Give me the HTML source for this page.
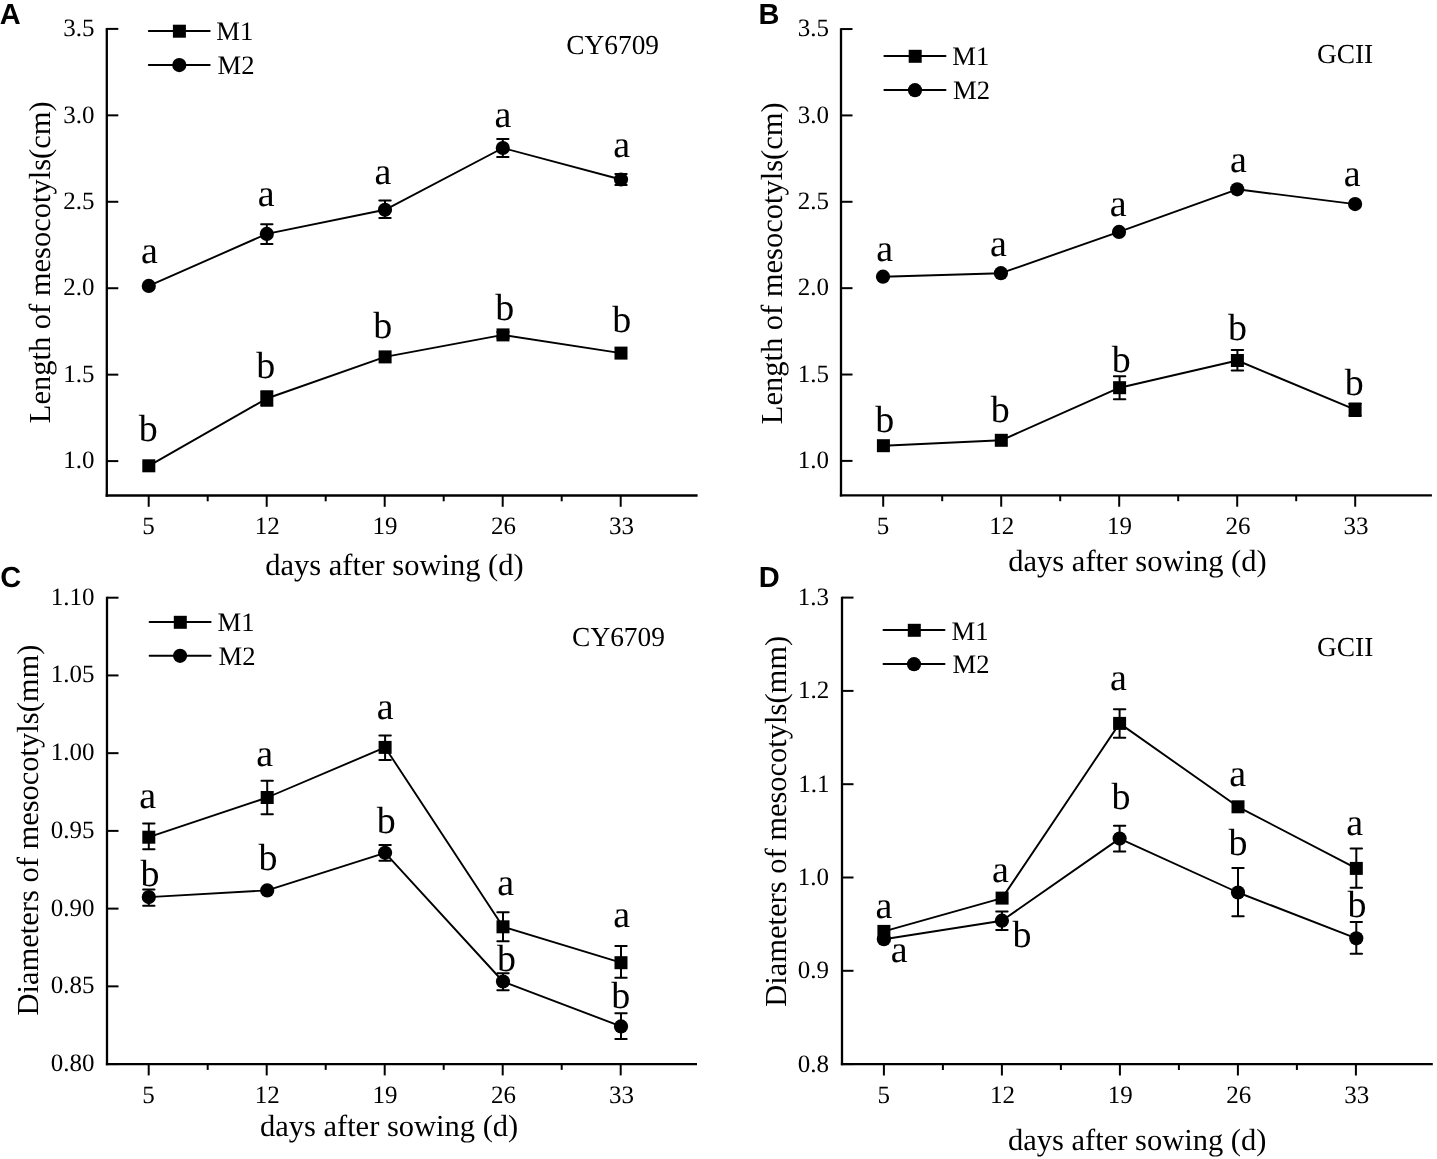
<!DOCTYPE html>
<html><head><meta charset="utf-8"><title>Mesocotyl length and diameter</title>
<style>
html,body{margin:0;padding:0;background:#fff;}
body{width:1437px;height:1159px;overflow:hidden;}
svg{display:block;}
text{text-rendering:geometricPrecision;}
</style></head>
<body>
<svg style="will-change:transform" width="1437" height="1159" viewBox="0 0 1437 1159">
<rect x="0" y="0" width="1437" height="1159" fill="#fff"/>
<g fill="#000" stroke="#000" font-family='"Liberation Serif", serif'>
<g stroke="none">
</g>
<line x1="106.80" y1="28.00" x2="106.80" y2="496.65" stroke-width="2.3" stroke-linecap="butt"/>
<line x1="105.65" y1="495.50" x2="697.60" y2="495.50" stroke-width="2.3" stroke-linecap="butt"/>
<line x1="106.80" y1="28.90" x2="118.30" y2="28.90" stroke-width="2.0" stroke-linecap="butt"/>
<text stroke="none" x="63.35" y="36.06" font-size="25">3.5</text>
<line x1="106.80" y1="115.34" x2="118.30" y2="115.34" stroke-width="2.0" stroke-linecap="butt"/>
<text stroke="none" x="63.35" y="122.56" font-size="25">3.0</text>
<line x1="106.80" y1="201.78" x2="118.30" y2="201.78" stroke-width="2.0" stroke-linecap="butt"/>
<text stroke="none" x="63.35" y="208.94" font-size="25">2.5</text>
<line x1="106.80" y1="288.22" x2="118.30" y2="288.22" stroke-width="2.0" stroke-linecap="butt"/>
<text stroke="none" x="63.35" y="295.44" font-size="25">2.0</text>
<line x1="106.80" y1="374.66" x2="118.30" y2="374.66" stroke-width="2.0" stroke-linecap="butt"/>
<text stroke="none" x="63.35" y="381.76" font-size="25">1.5</text>
<line x1="106.80" y1="461.10" x2="118.30" y2="461.10" stroke-width="2.0" stroke-linecap="butt"/>
<text stroke="none" x="63.35" y="468.32" font-size="25">1.0</text>
<line x1="148.70" y1="495.50" x2="148.70" y2="506.80" stroke-width="2.0" stroke-linecap="butt"/>
<text stroke="none" x="142.20" y="533.50" font-size="25">5</text>
<line x1="266.70" y1="495.50" x2="266.70" y2="506.80" stroke-width="2.0" stroke-linecap="butt"/>
<text stroke="none" x="254.76" y="533.50" font-size="25">12</text>
<line x1="384.70" y1="495.50" x2="384.70" y2="506.80" stroke-width="2.0" stroke-linecap="butt"/>
<text stroke="none" x="372.57" y="533.50" font-size="25">19</text>
<line x1="502.70" y1="495.50" x2="502.70" y2="506.80" stroke-width="2.0" stroke-linecap="butt"/>
<text stroke="none" x="491.01" y="533.50" font-size="25">26</text>
<line x1="620.70" y1="495.50" x2="620.70" y2="506.80" stroke-width="2.0" stroke-linecap="butt"/>
<text stroke="none" x="609.08" y="533.50" font-size="25">33</text>
<line x1="207.70" y1="495.50" x2="207.70" y2="501.30" stroke-width="2.0" stroke-linecap="butt"/>
<line x1="325.70" y1="495.50" x2="325.70" y2="501.30" stroke-width="2.0" stroke-linecap="butt"/>
<line x1="443.70" y1="495.50" x2="443.70" y2="501.30" stroke-width="2.0" stroke-linecap="butt"/>
<line x1="561.70" y1="495.50" x2="561.70" y2="501.30" stroke-width="2.0" stroke-linecap="butt"/>
<text stroke="none" x="265.28" y="574.72" font-size="30.5" font-family='"Liberation Serif", serif'>days after sowing (d)</text>
<text stroke="none" transform="translate(50.19,423.24) rotate(-90)" x="0" y="0" font-size="30.5">Length of mesocotyls(cm)</text>
<text stroke="none" x="-0.29" y="23.70" font-size="29" font-family='"Liberation Sans", sans-serif' font-weight="bold">A</text>
<line x1="148.80" y1="31.00" x2="209.70" y2="31.00" stroke-width="2.0" stroke-linecap="round"/>
<rect x="172.90" y="24.70" width="13" height="13" stroke="none"/>
<text stroke="none" x="216.31" y="39.86" font-size="26.6" font-family='"Liberation Serif", serif'>M1</text>
<line x1="148.80" y1="65.10" x2="209.70" y2="65.10" stroke-width="2.0" stroke-linecap="round"/>
<circle cx="179.30" cy="65.10" r="7.10" stroke="none"/>
<text stroke="none" x="217.60" y="73.83" font-size="26.6" font-family='"Liberation Serif", serif'>M2</text>
<text stroke="none" x="566.21" y="54.12" font-size="27.4" font-family='"Liberation Serif", serif'>CY6709</text>
<path d="M148.80,465.80 L266.80,398.50 L385.10,356.90 L503.00,334.90 L621.00,353.10" fill="none" stroke-width="1.9" stroke-linejoin="round"/>
<path d="M148.80,285.90 L266.80,233.90 L385.00,209.80 L502.80,148.00 L621.00,179.50" fill="none" stroke-width="1.9" stroke-linejoin="round"/>
<rect x="142.30" y="459.30" width="13" height="13" stroke="none"/>
<line x1="266.80" y1="391.30" x2="266.80" y2="405.80" stroke-width="2.0" stroke-linecap="butt"/>
<line x1="261.10" y1="391.30" x2="272.50" y2="391.30" stroke-width="2.0" stroke-linecap="round"/>
<line x1="261.10" y1="405.80" x2="272.50" y2="405.80" stroke-width="2.0" stroke-linecap="round"/>
<rect x="260.30" y="392.00" width="13" height="13" stroke="none"/>
<rect x="378.60" y="350.40" width="13" height="13" stroke="none"/>
<line x1="503.00" y1="332.00" x2="503.00" y2="338.00" stroke-width="2.0" stroke-linecap="butt"/>
<line x1="497.30" y1="332.00" x2="508.70" y2="332.00" stroke-width="2.0" stroke-linecap="round"/>
<line x1="497.30" y1="338.00" x2="508.70" y2="338.00" stroke-width="2.0" stroke-linecap="round"/>
<rect x="496.50" y="328.40" width="13" height="13" stroke="none"/>
<rect x="614.50" y="346.60" width="13" height="13" stroke="none"/>
<circle cx="148.80" cy="285.90" r="7.10" stroke="none"/>
<line x1="266.80" y1="224.20" x2="266.80" y2="243.90" stroke-width="2.0" stroke-linecap="butt"/>
<line x1="261.10" y1="224.20" x2="272.50" y2="224.20" stroke-width="2.0" stroke-linecap="round"/>
<line x1="261.10" y1="243.90" x2="272.50" y2="243.90" stroke-width="2.0" stroke-linecap="round"/>
<circle cx="266.80" cy="233.90" r="7.10" stroke="none"/>
<line x1="385.00" y1="200.40" x2="385.00" y2="218.10" stroke-width="2.0" stroke-linecap="butt"/>
<line x1="379.30" y1="200.40" x2="390.70" y2="200.40" stroke-width="2.0" stroke-linecap="round"/>
<line x1="379.30" y1="218.10" x2="390.70" y2="218.10" stroke-width="2.0" stroke-linecap="round"/>
<circle cx="385.00" cy="209.80" r="7.10" stroke="none"/>
<line x1="502.80" y1="139.00" x2="502.80" y2="157.10" stroke-width="2.0" stroke-linecap="butt"/>
<line x1="497.10" y1="139.00" x2="508.50" y2="139.00" stroke-width="2.0" stroke-linecap="round"/>
<line x1="497.10" y1="157.10" x2="508.50" y2="157.10" stroke-width="2.0" stroke-linecap="round"/>
<circle cx="502.80" cy="148.00" r="7.10" stroke="none"/>
<line x1="621.00" y1="174.10" x2="621.00" y2="185.10" stroke-width="2.0" stroke-linecap="butt"/>
<line x1="615.30" y1="174.10" x2="626.70" y2="174.10" stroke-width="2.0" stroke-linecap="round"/>
<line x1="615.30" y1="185.10" x2="626.70" y2="185.10" stroke-width="2.0" stroke-linecap="round"/>
<circle cx="621.00" cy="179.50" r="7.10" stroke="none"/>
<text stroke="none" x="141.06" y="263.05" font-size="38" font-family='"Liberation Serif", serif'>a</text>
<text stroke="none" x="257.77" y="205.95" font-size="38" font-family='"Liberation Serif", serif'>a</text>
<text stroke="none" x="374.56" y="183.95" font-size="38" font-family='"Liberation Serif", serif'>a</text>
<text stroke="none" x="494.47" y="126.64" font-size="38" font-family='"Liberation Serif", serif'>a</text>
<text stroke="none" x="613.16" y="157.05" font-size="38" font-family='"Liberation Serif", serif'>a</text>
<text stroke="none" x="138.66" y="440.72" font-size="38" font-family='"Liberation Serif", serif'>b</text>
<text stroke="none" x="256.36" y="377.67" font-size="38" font-family='"Liberation Serif", serif'>b</text>
<text stroke="none" x="373.26" y="337.97" font-size="38" font-family='"Liberation Serif", serif'>b</text>
<text stroke="none" x="495.26" y="319.87" font-size="38" font-family='"Liberation Serif", serif'>b</text>
<text stroke="none" x="612.26" y="331.87" font-size="38" font-family='"Liberation Serif", serif'>b</text>
<line x1="841.00" y1="28.15" x2="841.00" y2="496.55" stroke-width="2.3" stroke-linecap="butt"/>
<line x1="839.85" y1="495.40" x2="1431.90" y2="495.40" stroke-width="2.3" stroke-linecap="butt"/>
<line x1="841.00" y1="29.05" x2="852.50" y2="29.05" stroke-width="2.0" stroke-linecap="butt"/>
<text stroke="none" x="797.65" y="36.21" font-size="25">3.5</text>
<line x1="841.00" y1="115.42" x2="852.50" y2="115.42" stroke-width="2.0" stroke-linecap="butt"/>
<text stroke="none" x="797.65" y="122.64" font-size="25">3.0</text>
<line x1="841.00" y1="201.79" x2="852.50" y2="201.79" stroke-width="2.0" stroke-linecap="butt"/>
<text stroke="none" x="797.65" y="208.95" font-size="25">2.5</text>
<line x1="841.00" y1="288.16" x2="852.50" y2="288.16" stroke-width="2.0" stroke-linecap="butt"/>
<text stroke="none" x="797.65" y="295.39" font-size="25">2.0</text>
<line x1="841.00" y1="374.53" x2="852.50" y2="374.53" stroke-width="2.0" stroke-linecap="butt"/>
<text stroke="none" x="797.65" y="381.63" font-size="25">1.5</text>
<line x1="841.00" y1="460.90" x2="852.50" y2="460.90" stroke-width="2.0" stroke-linecap="butt"/>
<text stroke="none" x="797.65" y="468.13" font-size="25">1.0</text>
<line x1="883.20" y1="495.40" x2="883.20" y2="506.70" stroke-width="2.0" stroke-linecap="butt"/>
<text stroke="none" x="876.70" y="534.00" font-size="25">5</text>
<line x1="1001.20" y1="495.40" x2="1001.20" y2="506.70" stroke-width="2.0" stroke-linecap="butt"/>
<text stroke="none" x="989.26" y="534.00" font-size="25">12</text>
<line x1="1119.20" y1="495.40" x2="1119.20" y2="506.70" stroke-width="2.0" stroke-linecap="butt"/>
<text stroke="none" x="1107.08" y="534.00" font-size="25">19</text>
<line x1="1237.20" y1="495.40" x2="1237.20" y2="506.70" stroke-width="2.0" stroke-linecap="butt"/>
<text stroke="none" x="1225.51" y="534.00" font-size="25">26</text>
<line x1="1355.20" y1="495.40" x2="1355.20" y2="506.70" stroke-width="2.0" stroke-linecap="butt"/>
<text stroke="none" x="1343.58" y="534.00" font-size="25">33</text>
<line x1="942.20" y1="495.40" x2="942.20" y2="501.20" stroke-width="2.0" stroke-linecap="butt"/>
<line x1="1060.20" y1="495.40" x2="1060.20" y2="501.20" stroke-width="2.0" stroke-linecap="butt"/>
<line x1="1178.20" y1="495.40" x2="1178.20" y2="501.20" stroke-width="2.0" stroke-linecap="butt"/>
<line x1="1296.20" y1="495.40" x2="1296.20" y2="501.20" stroke-width="2.0" stroke-linecap="butt"/>
<text stroke="none" x="1008.33" y="571.42" font-size="30.5" font-family='"Liberation Serif", serif'>days after sowing (d)</text>
<text stroke="none" transform="translate(782.44,424.24) rotate(-90)" x="0" y="0" font-size="30.5">Length of mesocotyls(cm)</text>
<text stroke="none" x="758.47" y="23.91" font-size="29" font-family='"Liberation Sans", sans-serif' font-weight="bold">B</text>
<line x1="884.40" y1="56.10" x2="945.50" y2="56.10" stroke-width="2.0" stroke-linecap="round"/>
<rect x="908.70" y="49.80" width="13" height="13" stroke="none"/>
<text stroke="none" x="952.26" y="65.36" font-size="26.6" font-family='"Liberation Serif", serif'>M1</text>
<line x1="884.40" y1="90.00" x2="945.50" y2="90.00" stroke-width="2.0" stroke-linecap="round"/>
<circle cx="915.00" cy="90.20" r="7.10" stroke="none"/>
<text stroke="none" x="953.10" y="99.23" font-size="26.6" font-family='"Liberation Serif", serif'>M2</text>
<text stroke="none" x="1316.88" y="62.86" font-size="27.4" font-family='"Liberation Serif", serif'>GCII</text>
<path d="M883.40,445.70 L1001.30,440.30 L1119.60,387.70 L1237.40,360.50 L1355.10,409.60" fill="none" stroke-width="1.9" stroke-linejoin="round"/>
<path d="M883.00,276.70 L1000.90,273.20 L1119.00,231.90 L1237.20,189.30 L1355.10,204.10" fill="none" stroke-width="1.9" stroke-linejoin="round"/>
<rect x="876.90" y="439.20" width="13" height="13" stroke="none"/>
<rect x="994.80" y="433.80" width="13" height="13" stroke="none"/>
<line x1="1119.60" y1="376.20" x2="1119.60" y2="399.20" stroke-width="2.0" stroke-linecap="butt"/>
<line x1="1113.90" y1="376.20" x2="1125.30" y2="376.20" stroke-width="2.0" stroke-linecap="round"/>
<line x1="1113.90" y1="399.20" x2="1125.30" y2="399.20" stroke-width="2.0" stroke-linecap="round"/>
<rect x="1113.10" y="381.20" width="13" height="13" stroke="none"/>
<line x1="1237.40" y1="350.10" x2="1237.40" y2="370.60" stroke-width="2.0" stroke-linecap="butt"/>
<line x1="1231.70" y1="350.10" x2="1243.10" y2="350.10" stroke-width="2.0" stroke-linecap="round"/>
<line x1="1231.70" y1="370.60" x2="1243.10" y2="370.60" stroke-width="2.0" stroke-linecap="round"/>
<rect x="1230.90" y="354.00" width="13" height="13" stroke="none"/>
<line x1="1355.10" y1="403.50" x2="1355.10" y2="416.00" stroke-width="2.0" stroke-linecap="butt"/>
<line x1="1349.40" y1="403.50" x2="1360.80" y2="403.50" stroke-width="2.0" stroke-linecap="round"/>
<line x1="1349.40" y1="416.00" x2="1360.80" y2="416.00" stroke-width="2.0" stroke-linecap="round"/>
<rect x="1348.60" y="403.10" width="13" height="13" stroke="none"/>
<circle cx="883.00" cy="276.70" r="7.10" stroke="none"/>
<circle cx="1000.90" cy="273.20" r="7.10" stroke="none"/>
<circle cx="1119.00" cy="231.90" r="7.10" stroke="none"/>
<circle cx="1237.20" cy="189.30" r="7.10" stroke="none"/>
<circle cx="1355.10" cy="204.10" r="7.10" stroke="none"/>
<text stroke="none" x="876.16" y="261.34" font-size="38" font-family='"Liberation Serif", serif'>a</text>
<text stroke="none" x="989.96" y="255.65" font-size="38" font-family='"Liberation Serif", serif'>a</text>
<text stroke="none" x="1109.87" y="216.15" font-size="38" font-family='"Liberation Serif", serif'>a</text>
<text stroke="none" x="1229.96" y="171.95" font-size="38" font-family='"Liberation Serif", serif'>a</text>
<text stroke="none" x="1343.76" y="185.90" font-size="38" font-family='"Liberation Serif", serif'>a</text>
<text stroke="none" x="875.26" y="431.72" font-size="38" font-family='"Liberation Serif", serif'>b</text>
<text stroke="none" x="990.76" y="422.22" font-size="38" font-family='"Liberation Serif", serif'>b</text>
<text stroke="none" x="1111.76" y="371.57" font-size="38" font-family='"Liberation Serif", serif'>b</text>
<text stroke="none" x="1227.96" y="339.87" font-size="38" font-family='"Liberation Serif", serif'>b</text>
<text stroke="none" x="1344.86" y="394.87" font-size="38" font-family='"Liberation Serif", serif'>b</text>
<line x1="107.00" y1="596.80" x2="107.00" y2="1065.25" stroke-width="2.3" stroke-linecap="butt"/>
<line x1="105.85" y1="1064.10" x2="697.00" y2="1064.10" stroke-width="2.3" stroke-linecap="butt"/>
<line x1="107.00" y1="597.70" x2="118.50" y2="597.70" stroke-width="2.0" stroke-linecap="butt"/>
<text stroke="none" x="50.85" y="604.73" font-size="25">1.10</text>
<line x1="107.00" y1="675.43" x2="118.50" y2="675.43" stroke-width="2.0" stroke-linecap="butt"/>
<text stroke="none" x="50.85" y="682.46" font-size="25">1.05</text>
<line x1="107.00" y1="753.16" x2="118.50" y2="753.16" stroke-width="2.0" stroke-linecap="butt"/>
<text stroke="none" x="50.85" y="760.19" font-size="25">1.00</text>
<line x1="107.00" y1="830.89" x2="118.50" y2="830.89" stroke-width="2.0" stroke-linecap="butt"/>
<text stroke="none" x="50.85" y="837.92" font-size="25">0.95</text>
<line x1="107.00" y1="908.62" x2="118.50" y2="908.62" stroke-width="2.0" stroke-linecap="butt"/>
<text stroke="none" x="50.85" y="915.65" font-size="25">0.90</text>
<line x1="107.00" y1="986.35" x2="118.50" y2="986.35" stroke-width="2.0" stroke-linecap="butt"/>
<text stroke="none" x="50.85" y="993.38" font-size="25">0.85</text>
<line x1="107.00" y1="1064.08" x2="118.50" y2="1064.08" stroke-width="2.0" stroke-linecap="butt"/>
<text stroke="none" x="50.85" y="1071.11" font-size="25">0.80</text>
<line x1="148.70" y1="1064.10" x2="148.70" y2="1075.40" stroke-width="2.0" stroke-linecap="butt"/>
<text stroke="none" x="142.20" y="1102.70" font-size="25">5</text>
<line x1="266.70" y1="1064.10" x2="266.70" y2="1075.40" stroke-width="2.0" stroke-linecap="butt"/>
<text stroke="none" x="254.76" y="1102.70" font-size="25">12</text>
<line x1="384.70" y1="1064.10" x2="384.70" y2="1075.40" stroke-width="2.0" stroke-linecap="butt"/>
<text stroke="none" x="372.57" y="1102.70" font-size="25">19</text>
<line x1="502.70" y1="1064.10" x2="502.70" y2="1075.40" stroke-width="2.0" stroke-linecap="butt"/>
<text stroke="none" x="491.01" y="1102.70" font-size="25">26</text>
<line x1="620.70" y1="1064.10" x2="620.70" y2="1075.40" stroke-width="2.0" stroke-linecap="butt"/>
<text stroke="none" x="609.08" y="1102.70" font-size="25">33</text>
<line x1="207.70" y1="1064.10" x2="207.70" y2="1069.90" stroke-width="2.0" stroke-linecap="butt"/>
<line x1="325.70" y1="1064.10" x2="325.70" y2="1069.90" stroke-width="2.0" stroke-linecap="butt"/>
<line x1="443.70" y1="1064.10" x2="443.70" y2="1069.90" stroke-width="2.0" stroke-linecap="butt"/>
<line x1="561.70" y1="1064.10" x2="561.70" y2="1069.90" stroke-width="2.0" stroke-linecap="butt"/>
<text stroke="none" x="259.93" y="1136.27" font-size="30.5" font-family='"Liberation Serif", serif'>days after sowing (d)</text>
<text stroke="none" transform="translate(38.17,1015.54) rotate(-90)" x="0" y="0" font-size="30.5">Diameters of mesocotyls(mm)</text>
<text stroke="none" x="0.24" y="586.86" font-size="29" font-family='"Liberation Sans", sans-serif' font-weight="bold">C</text>
<line x1="149.60" y1="621.90" x2="210.60" y2="621.90" stroke-width="2.0" stroke-linecap="round"/>
<rect x="173.80" y="615.80" width="13" height="13" stroke="none"/>
<text stroke="none" x="217.61" y="631.31" font-size="26.6" font-family='"Liberation Serif", serif'>M1</text>
<line x1="149.60" y1="655.80" x2="210.60" y2="655.80" stroke-width="2.0" stroke-linecap="round"/>
<circle cx="180.10" cy="655.80" r="7.10" stroke="none"/>
<text stroke="none" x="218.50" y="665.33" font-size="26.6" font-family='"Liberation Serif", serif'>M2</text>
<text stroke="none" x="572.11" y="646.37" font-size="27.4" font-family='"Liberation Serif", serif'>CY6709</text>
<path d="M148.80,837.20 L267.20,797.50 L385.10,747.40 L503.00,926.80 L621.00,962.70" fill="none" stroke-width="1.9" stroke-linejoin="round"/>
<path d="M148.80,897.10 L267.20,890.40 L385.10,852.80 L503.00,981.50 L621.00,1026.40" fill="none" stroke-width="1.9" stroke-linejoin="round"/>
<line x1="148.80" y1="823.60" x2="148.80" y2="849.30" stroke-width="2.0" stroke-linecap="butt"/>
<line x1="143.10" y1="823.60" x2="154.50" y2="823.60" stroke-width="2.0" stroke-linecap="round"/>
<line x1="143.10" y1="849.30" x2="154.50" y2="849.30" stroke-width="2.0" stroke-linecap="round"/>
<rect x="142.30" y="830.70" width="13" height="13" stroke="none"/>
<line x1="267.20" y1="780.80" x2="267.20" y2="814.20" stroke-width="2.0" stroke-linecap="butt"/>
<line x1="261.50" y1="780.80" x2="272.90" y2="780.80" stroke-width="2.0" stroke-linecap="round"/>
<line x1="261.50" y1="814.20" x2="272.90" y2="814.20" stroke-width="2.0" stroke-linecap="round"/>
<rect x="260.70" y="791.00" width="13" height="13" stroke="none"/>
<line x1="385.10" y1="735.50" x2="385.10" y2="759.90" stroke-width="2.0" stroke-linecap="butt"/>
<line x1="379.40" y1="735.50" x2="390.80" y2="735.50" stroke-width="2.0" stroke-linecap="round"/>
<line x1="379.40" y1="759.90" x2="390.80" y2="759.90" stroke-width="2.0" stroke-linecap="round"/>
<rect x="378.60" y="740.90" width="13" height="13" stroke="none"/>
<line x1="503.00" y1="912.20" x2="503.00" y2="941.20" stroke-width="2.0" stroke-linecap="butt"/>
<line x1="497.30" y1="912.20" x2="508.70" y2="912.20" stroke-width="2.0" stroke-linecap="round"/>
<line x1="497.30" y1="941.20" x2="508.70" y2="941.20" stroke-width="2.0" stroke-linecap="round"/>
<rect x="496.50" y="920.30" width="13" height="13" stroke="none"/>
<line x1="621.00" y1="946.00" x2="621.00" y2="977.80" stroke-width="2.0" stroke-linecap="butt"/>
<line x1="615.30" y1="946.00" x2="626.70" y2="946.00" stroke-width="2.0" stroke-linecap="round"/>
<line x1="615.30" y1="977.80" x2="626.70" y2="977.80" stroke-width="2.0" stroke-linecap="round"/>
<rect x="614.50" y="956.20" width="13" height="13" stroke="none"/>
<line x1="148.80" y1="889.40" x2="148.80" y2="905.70" stroke-width="2.0" stroke-linecap="butt"/>
<line x1="143.10" y1="889.40" x2="154.50" y2="889.40" stroke-width="2.0" stroke-linecap="round"/>
<line x1="143.10" y1="905.70" x2="154.50" y2="905.70" stroke-width="2.0" stroke-linecap="round"/>
<circle cx="148.80" cy="897.10" r="7.10" stroke="none"/>
<circle cx="267.20" cy="890.40" r="7.10" stroke="none"/>
<line x1="385.10" y1="844.90" x2="385.10" y2="860.80" stroke-width="2.0" stroke-linecap="butt"/>
<line x1="379.40" y1="844.90" x2="390.80" y2="844.90" stroke-width="2.0" stroke-linecap="round"/>
<line x1="379.40" y1="860.80" x2="390.80" y2="860.80" stroke-width="2.0" stroke-linecap="round"/>
<circle cx="385.10" cy="852.80" r="7.10" stroke="none"/>
<line x1="503.00" y1="973.20" x2="503.00" y2="990.30" stroke-width="2.0" stroke-linecap="butt"/>
<line x1="497.30" y1="973.20" x2="508.70" y2="973.20" stroke-width="2.0" stroke-linecap="round"/>
<line x1="497.30" y1="990.30" x2="508.70" y2="990.30" stroke-width="2.0" stroke-linecap="round"/>
<circle cx="503.00" cy="981.50" r="7.10" stroke="none"/>
<line x1="621.00" y1="1013.30" x2="621.00" y2="1038.90" stroke-width="2.0" stroke-linecap="butt"/>
<line x1="615.30" y1="1013.30" x2="626.70" y2="1013.30" stroke-width="2.0" stroke-linecap="round"/>
<line x1="615.30" y1="1038.90" x2="626.70" y2="1038.90" stroke-width="2.0" stroke-linecap="round"/>
<circle cx="621.00" cy="1026.40" r="7.10" stroke="none"/>
<text stroke="none" x="139.36" y="808.29" font-size="38" font-family='"Liberation Serif", serif'>a</text>
<text stroke="none" x="256.27" y="765.69" font-size="38" font-family='"Liberation Serif", serif'>a</text>
<text stroke="none" x="376.67" y="719.00" font-size="38" font-family='"Liberation Serif", serif'>a</text>
<text stroke="none" x="497.27" y="894.64" font-size="38" font-family='"Liberation Serif", serif'>a</text>
<text stroke="none" x="613.16" y="927.00" font-size="38" font-family='"Liberation Serif", serif'>a</text>
<text stroke="none" x="140.46" y="885.57" font-size="38" font-family='"Liberation Serif", serif'>b</text>
<text stroke="none" x="258.46" y="869.92" font-size="38" font-family='"Liberation Serif", serif'>b</text>
<text stroke="none" x="376.76" y="832.87" font-size="38" font-family='"Liberation Serif", serif'>b</text>
<text stroke="none" x="496.96" y="971.47" font-size="38" font-family='"Liberation Serif", serif'>b</text>
<text stroke="none" x="611.16" y="1007.67" font-size="38" font-family='"Liberation Serif", serif'>b</text>
<line x1="842.00" y1="596.70" x2="842.00" y2="1065.35" stroke-width="2.3" stroke-linecap="butt"/>
<line x1="840.85" y1="1064.20" x2="1432.80" y2="1064.20" stroke-width="2.3" stroke-linecap="butt"/>
<line x1="842.00" y1="597.60" x2="853.50" y2="597.60" stroke-width="2.0" stroke-linecap="butt"/>
<text stroke="none" x="797.75" y="605.06" font-size="25">1.3</text>
<line x1="842.00" y1="690.90" x2="853.50" y2="690.90" stroke-width="2.0" stroke-linecap="butt"/>
<text stroke="none" x="798.12" y="698.36" font-size="25">1.2</text>
<line x1="842.00" y1="784.20" x2="853.50" y2="784.20" stroke-width="2.0" stroke-linecap="butt"/>
<text stroke="none" x="798.25" y="791.60" font-size="25">1.1</text>
<line x1="842.00" y1="877.50" x2="853.50" y2="877.50" stroke-width="2.0" stroke-linecap="butt"/>
<text stroke="none" x="797.75" y="885.02" font-size="25">1.0</text>
<line x1="842.00" y1="970.80" x2="853.50" y2="970.80" stroke-width="2.0" stroke-linecap="butt"/>
<text stroke="none" x="797.75" y="978.32" font-size="25">0.9</text>
<line x1="842.00" y1="1064.10" x2="853.50" y2="1064.10" stroke-width="2.0" stroke-linecap="butt"/>
<text stroke="none" x="797.75" y="1071.62" font-size="25">0.8</text>
<line x1="883.90" y1="1064.20" x2="883.90" y2="1075.50" stroke-width="2.0" stroke-linecap="butt"/>
<text stroke="none" x="877.40" y="1103.20" font-size="25">5</text>
<line x1="1001.90" y1="1064.20" x2="1001.90" y2="1075.50" stroke-width="2.0" stroke-linecap="butt"/>
<text stroke="none" x="989.96" y="1103.20" font-size="25">12</text>
<line x1="1119.90" y1="1064.20" x2="1119.90" y2="1075.50" stroke-width="2.0" stroke-linecap="butt"/>
<text stroke="none" x="1107.78" y="1103.20" font-size="25">19</text>
<line x1="1237.90" y1="1064.20" x2="1237.90" y2="1075.50" stroke-width="2.0" stroke-linecap="butt"/>
<text stroke="none" x="1226.21" y="1103.20" font-size="25">26</text>
<line x1="1355.90" y1="1064.20" x2="1355.90" y2="1075.50" stroke-width="2.0" stroke-linecap="butt"/>
<text stroke="none" x="1344.28" y="1103.20" font-size="25">33</text>
<line x1="942.90" y1="1064.20" x2="942.90" y2="1070.00" stroke-width="2.0" stroke-linecap="butt"/>
<line x1="1060.90" y1="1064.20" x2="1060.90" y2="1070.00" stroke-width="2.0" stroke-linecap="butt"/>
<line x1="1178.90" y1="1064.20" x2="1178.90" y2="1070.00" stroke-width="2.0" stroke-linecap="butt"/>
<line x1="1296.90" y1="1064.20" x2="1296.90" y2="1070.00" stroke-width="2.0" stroke-linecap="butt"/>
<text stroke="none" x="1008.03" y="1149.57" font-size="30.5" font-family='"Liberation Serif", serif'>days after sowing (d)</text>
<text stroke="none" transform="translate(785.87,1006.79) rotate(-90)" x="0" y="0" font-size="30.5">Diameters of mesocotyls(mm)</text>
<text stroke="none" x="758.80" y="586.96" font-size="29" font-family='"Liberation Sans", sans-serif' font-weight="bold">D</text>
<line x1="883.50" y1="630.10" x2="944.50" y2="630.10" stroke-width="2.0" stroke-linecap="round"/>
<rect x="907.80" y="623.80" width="13" height="13" stroke="none"/>
<text stroke="none" x="951.51" y="639.56" font-size="26.6" font-family='"Liberation Serif", serif'>M1</text>
<line x1="883.50" y1="664.00" x2="944.50" y2="664.00" stroke-width="2.0" stroke-linecap="round"/>
<circle cx="914.00" cy="664.20" r="7.10" stroke="none"/>
<text stroke="none" x="952.50" y="673.38" font-size="26.6" font-family='"Liberation Serif", serif'>M2</text>
<text stroke="none" x="1317.03" y="656.40" font-size="27.4" font-family='"Liberation Serif", serif'>GCII</text>
<path d="M883.90,931.40 L1002.10,898.10 L1119.60,723.40 L1238.00,806.80 L1356.30,868.40" fill="none" stroke-width="1.9" stroke-linejoin="round"/>
<path d="M883.90,939.20 L1001.90,920.70 L1119.60,838.60 L1238.00,892.50 L1356.30,938.30" fill="none" stroke-width="1.9" stroke-linejoin="round"/>
<rect x="877.40" y="924.90" width="13" height="13" stroke="none"/>
<rect x="995.60" y="891.60" width="13" height="13" stroke="none"/>
<line x1="1119.60" y1="709.20" x2="1119.60" y2="737.70" stroke-width="2.0" stroke-linecap="butt"/>
<line x1="1113.90" y1="709.20" x2="1125.30" y2="709.20" stroke-width="2.0" stroke-linecap="round"/>
<line x1="1113.90" y1="737.70" x2="1125.30" y2="737.70" stroke-width="2.0" stroke-linecap="round"/>
<rect x="1113.10" y="716.90" width="13" height="13" stroke="none"/>
<rect x="1231.50" y="800.30" width="13" height="13" stroke="none"/>
<line x1="1356.30" y1="848.50" x2="1356.30" y2="887.80" stroke-width="2.0" stroke-linecap="butt"/>
<line x1="1350.60" y1="848.50" x2="1362.00" y2="848.50" stroke-width="2.0" stroke-linecap="round"/>
<line x1="1350.60" y1="887.80" x2="1362.00" y2="887.80" stroke-width="2.0" stroke-linecap="round"/>
<rect x="1349.80" y="861.90" width="13" height="13" stroke="none"/>
<circle cx="883.90" cy="939.20" r="7.10" stroke="none"/>
<line x1="1001.90" y1="911.40" x2="1001.90" y2="930.00" stroke-width="2.0" stroke-linecap="butt"/>
<line x1="996.20" y1="911.40" x2="1007.60" y2="911.40" stroke-width="2.0" stroke-linecap="round"/>
<line x1="996.20" y1="930.00" x2="1007.60" y2="930.00" stroke-width="2.0" stroke-linecap="round"/>
<circle cx="1001.90" cy="920.70" r="7.10" stroke="none"/>
<line x1="1119.60" y1="825.70" x2="1119.60" y2="851.60" stroke-width="2.0" stroke-linecap="butt"/>
<line x1="1113.90" y1="825.70" x2="1125.30" y2="825.70" stroke-width="2.0" stroke-linecap="round"/>
<line x1="1113.90" y1="851.60" x2="1125.30" y2="851.60" stroke-width="2.0" stroke-linecap="round"/>
<circle cx="1119.60" cy="838.60" r="7.10" stroke="none"/>
<line x1="1238.00" y1="867.90" x2="1238.00" y2="916.30" stroke-width="2.0" stroke-linecap="butt"/>
<line x1="1232.30" y1="867.90" x2="1243.70" y2="867.90" stroke-width="2.0" stroke-linecap="round"/>
<line x1="1232.30" y1="916.30" x2="1243.70" y2="916.30" stroke-width="2.0" stroke-linecap="round"/>
<circle cx="1238.00" cy="892.50" r="7.10" stroke="none"/>
<line x1="1356.30" y1="922.00" x2="1356.30" y2="953.80" stroke-width="2.0" stroke-linecap="butt"/>
<line x1="1350.60" y1="922.00" x2="1362.00" y2="922.00" stroke-width="2.0" stroke-linecap="round"/>
<line x1="1350.60" y1="953.80" x2="1362.00" y2="953.80" stroke-width="2.0" stroke-linecap="round"/>
<circle cx="1356.30" cy="938.30" r="7.10" stroke="none"/>
<text stroke="none" x="875.51" y="918.35" font-size="38" font-family='"Liberation Serif", serif'>a</text>
<text stroke="none" x="992.06" y="881.94" font-size="38" font-family='"Liberation Serif", serif'>a</text>
<text stroke="none" x="1110.07" y="690.39" font-size="38" font-family='"Liberation Serif", serif'>a</text>
<text stroke="none" x="1229.16" y="786.14" font-size="38" font-family='"Liberation Serif", serif'>a</text>
<text stroke="none" x="1346.16" y="835.35" font-size="38" font-family='"Liberation Serif", serif'>a</text>
<text stroke="none" x="890.81" y="962.14" font-size="38" font-family='"Liberation Serif", serif'>a</text>
<text stroke="none" x="1012.51" y="947.47" font-size="38" font-family='"Liberation Serif", serif'>b</text>
<text stroke="none" x="1111.46" y="808.87" font-size="38" font-family='"Liberation Serif", serif'>b</text>
<text stroke="none" x="1228.46" y="854.82" font-size="38" font-family='"Liberation Serif", serif'>b</text>
<text stroke="none" x="1347.56" y="916.67" font-size="38" font-family='"Liberation Serif", serif'>b</text>
</g>
</svg>
</body></html>
